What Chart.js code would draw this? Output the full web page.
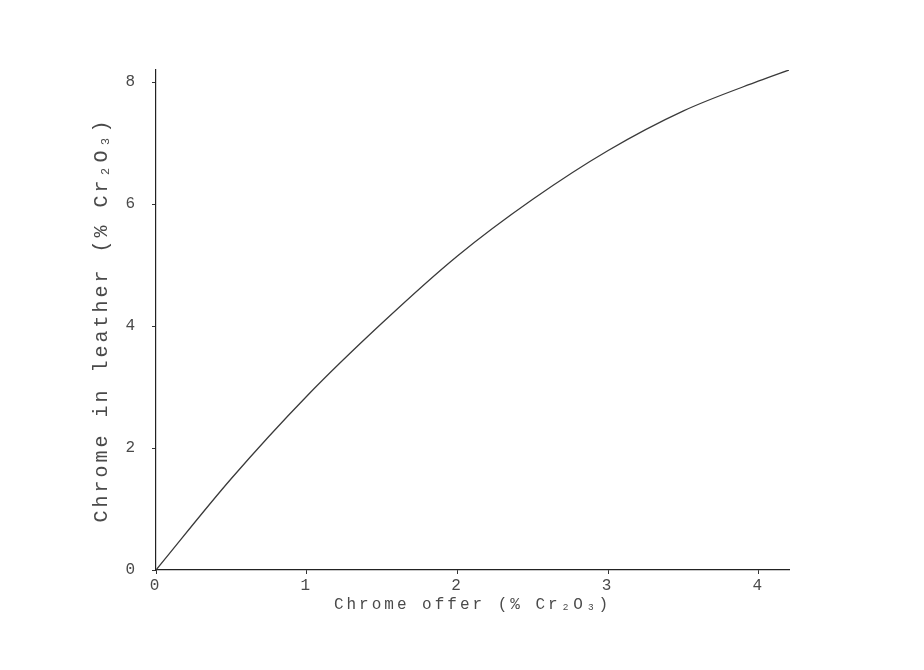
<!DOCTYPE html>
<html>
<head>
<meta charset="utf-8">
<script src="https://cdn.jsdelivr.net/npm/chart.js@4.4.1/dist/chart.umd.min.js"></script>
<style>
  html, body { margin: 0; padding: 0; background: #fff; }
  #wrap { width: 924px; height: 670px; }
</style>
</head>
<body>
<div id="wrap"><canvas id="myChart"></canvas></div>
<script>
// chrome offer (% Cr2O3) vs chrome in leather (% Cr2O3)
const offer = [0, 0.5, 1, 1.5, 2, 2.5, 3, 3.5, 4, 4.2];
const leather = [0, 1.5, 2.85, 4.05, 5.15, 6.08, 6.88, 7.53, 8.02, 8.2];
const xTicks = [0, 1, 2, 3, 4];
const yTicks = [0, 2, 4, 6, 8];

const points = offer.map((x, i) => ({ x: x, y: leather[i] }));
const ink = '#4a4a4a';
const mono = 'Liberation Mono, DejaVu Sans Mono, monospace';

const spacing = {
    id: 'spacing',
    beforeDraw(chart) {
        chart.ctx.letterSpacing = '3px';
    }
};

new Chart(document.getElementById('myChart').getContext('2d'), {
    type: 'line',
    data: {
        datasets: [{
            data: points,
            borderColor: '#3a3a3a',
            borderWidth: 1.3,
            pointRadius: 0,
            fill: false,
            cubicInterpolationMode: 'monotone'
        }]
    },
    options: {
        responsive: true,
        maintainAspectRatio: false,
        animation: false,
        layout: { padding: { left: 90, right: 135, top: 70, bottom: 56 } },
        plugins: { legend: { display: false }, tooltip: { enabled: false } },
        scales: {
            x: {
                type: 'linear',
                min: 0,
                max: 4.2,
                afterBuildTicks: (s) => { s.ticks = xTicks.map(v => ({ value: v })); },
                afterFit: (s) => { s.height = 44; },
                ticks: { color: ink, font: { family: mono, size: 16 }, padding: 2 },
                grid: { display: true, drawOnChartArea: false, tickLength: 4, color: '#333' },
                border: { display: true, color: '#222', width: 1.2 },
                title: {
                    display: true,
                    text: 'Chrome offer (% Cr₂O₃)',
                    color: ink,
                    font: { family: mono, size: 16 },
                    padding: { top: 4, bottom: 0 }
                }
            },
            y: {
                type: 'linear',
                min: 0,
                max: 8.2,
                afterBuildTicks: (s) => { s.ticks = yTicks.map(v => ({ value: v })); },
                afterFit: (s) => { s.width = 66; },
                ticks: { color: ink, font: { family: mono, size: 16 }, padding: 14 },
                grid: { display: true, drawOnChartArea: false, tickLength: 4, color: '#333' },
                border: { display: true, color: '#222', width: 1.2 },
                title: {
                    display: true,
                    text: 'Chrome in leather (% Cr₂O₃)',
                    color: ink,
                    font: { family: mono, size: 20 },
                    padding: { top: 0, bottom: 0 }
                }
            }
        }
    },
    plugins: [spacing]
});
</script>
</body>
</html>
